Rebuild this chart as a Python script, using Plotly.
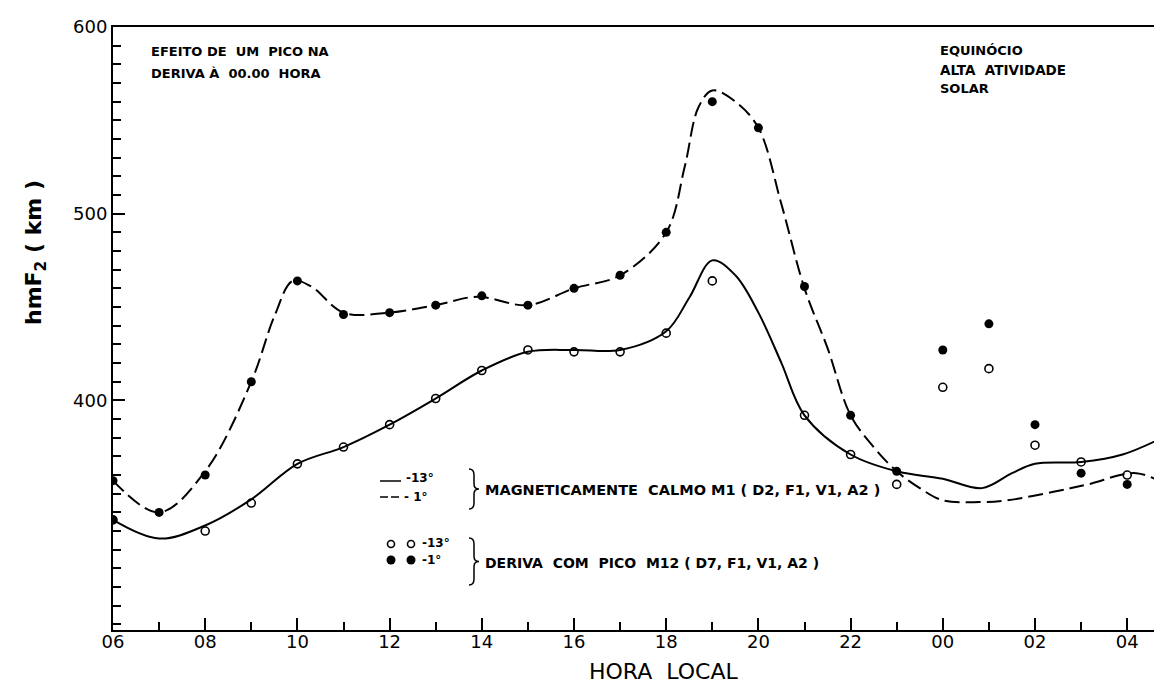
import plotly.graph_objects as go

# ---------------- data ----------------
# local hour (06 .. 28 = 04 next day)
hours = [6, 7, 8, 9, 10, 11, 12, 13, 14, 15, 16, 17, 18, 19, 20, 21, 22, 23, 24, 25, 26, 27, 28]

# points: drift with a peak, M12 (D7,F1,V1,A2)
filled_m12 = [357, 340, 360, 410, 464, 446, 447, 451, 456, 451, 460, 467, 490, 560, 546, 461, 392, 362, 427, 441, 387, 361, 355]   # -1 deg
open_m12 = [336, None, 330, 345, 366, 375, 387, 401, 416, 427, 426, 426, 436, 464, None, 392, 371, 355, 407, 417, 376, 367, 360]   # -13 deg

# curves: magnetically quiet, M1 (D2,F1,V1,A2)
curve_m1_13_x = [6, 7, 8, 9, 10, 11, 12, 13, 14, 15, 16, 17, 18, 18.5, 19, 19.5, 20, 20.5, 21, 22, 23, 24, 24.85, 25.5, 26, 27, 27.9, 28.93]
curve_m1_13_y = [336, 326, 333, 347, 366, 375, 387, 401, 416, 426, 427, 427, 437, 455, 475, 467, 447, 420, 392, 371, 362, 358, 353, 361, 366, 367, 371, 382]

curve_m1_1_x = [6, 7, 8, 9, 9.5, 9.9, 10.3, 11, 12, 13, 13.9, 15, 16, 17, 18, 18.4, 18.7, 19.0, 19.5, 20, 20.5, 21, 21.5, 22, 22.5, 23, 23.5, 24, 24.8, 25.4, 26.4, 27.15, 28.2, 28.93]
curve_m1_1_y = [357, 340, 362, 410, 445, 464, 461, 447, 447, 451, 455.5, 451, 460, 467, 490, 525, 557, 566, 560, 546, 505, 460, 428, 392, 375, 362, 353, 346.5, 345.5, 346.5, 351, 355, 361, 353.5]

x_tickvals = [6, 8, 10, 12, 14, 16, 18, 20, 22, 24, 26, 28]
x_ticktext = ["06", "08", "10", "12", "14", "16", "18", "20", "22", "00", "02", "04"]
y_tickvals = [400, 500, 600]

# ---------------- figure ----------------
W, H = 1162, 689
L, R, T, B = 105, 0, 19, 67
PW, PH = W - L - R, H - T - B
X_MIN, PX_PER_H = 6, 46.1
X_MAX = X_MIN + PW / PX_PER_H

def px(x):
    return (x - L) / PW

def py(y):
    return (H - B - y) / PH

FONT = "DejaVu Sans"
NB = "\u00a0"
fig = go.Figure()

open_symbols = ["circle"] + ["circle-open"] * (len(hours) - 1)

fig.add_trace(go.Scatter(x=curve_m1_13_x, y=curve_m1_13_y, mode="lines",
                         line=dict(color="black", width=2, shape="spline", smoothing=1.0),
                         showlegend=False, hoverinfo="skip"))
fig.add_trace(go.Scatter(x=curve_m1_1_x, y=curve_m1_1_y, mode="lines",
                         line=dict(color="black", width=2, shape="spline", smoothing=1.0, dash="15px,6px"),
                         showlegend=False, hoverinfo="skip"))
fig.add_trace(go.Scatter(x=hours, y=open_m12, mode="markers",
                         marker=dict(symbol=open_symbols, size=8, color="black", line=dict(width=1.6, color="black")),
                         showlegend=False))
fig.add_trace(go.Scatter(x=hours, y=filled_m12, mode="markers",
                         marker=dict(symbol="circle", size=9, color="black"),
                         showlegend=False))

shapes = []
annotations = []

def text(x, y, s, size=13, anchor="left", bold=True, angle=0):
    annotations.append(dict(x=px(x), y=py(y), xref="paper", yref="paper", text=s, showarrow=False,
                            xanchor=anchor, yanchor="middle", textangle=angle,
                            font=dict(family=FONT, size=size, color="black",
                                      weight="bold" if bold else "normal")))

# in-plot legend
shapes.append(dict(type="line", xref="paper", yref="paper", x0=px(372), x1=px(393), y0=py(473), y1=py(473),
                   line=dict(color="black", width=1.5)))
shapes.append(dict(type="line", xref="paper", yref="paper", x0=px(372), x1=px(393), y0=py(489), y1=py(489),
                   line=dict(color="black", width=1.5, dash="8px,3px")))
text(396, 470, "-13°", 12)
text(394, 489, "- 1°", 12)

def brace(x, y0, y1):
    ym = (y0 + y1) / 2
    d = (f"M {px(x)},{py(y0)} Q {px(x+5)},{py(y0)} {px(x+5)},{py(y0+6)} "
         f"L {px(x+5)},{py(ym-5)} Q {px(x+5)},{py(ym)} {px(x+10)},{py(ym)} "
         f"Q {px(x+5)},{py(ym)} {px(x+5)},{py(ym+5)} "
         f"L {px(x+5)},{py(y1-6)} Q {px(x+5)},{py(y1)} {px(x)},{py(y1)}")
    shapes.append(dict(type="path", xref="paper", yref="paper", path=d, line=dict(color="black", width=1.5)))

brace(461, 461, 501)
text(475, 482, f"MAGNETICAMENTE{NB}{NB}CALMO{NB}M1{NB}({NB}D2,{NB}F1,{NB}V1,{NB}A2{NB})", 14.5)

for cx in (383, 403):
    shapes.append(dict(type="circle", xref="paper", yref="paper", x0=px(cx - 3.5), x1=px(cx + 3.5),
                       y0=py(536 + 3.5), y1=py(536 - 3.5), line=dict(color="black", width=1.6)))
    shapes.append(dict(type="circle", xref="paper", yref="paper", x0=px(cx - 4.5), x1=px(cx + 4.5),
                       y0=py(552 + 4.5), y1=py(552 - 4.5), fillcolor="black", line=dict(color="black", width=0)))
text(412, 535, "-13°", 12)
text(412, 552, "-1°", 12)
brace(461, 530, 577)
text(475, 555, f"DERIVA{NB}{NB}COM{NB}{NB}PICO{NB}{NB}M12{NB}({NB}D7,{NB}F1,{NB}V1,{NB}A2{NB})", 14)

# corner notes
text(141, 43, f"EFEITO{NB}DE{NB}{NB}UM{NB}{NB}PICO{NB}NA", 13)
text(141, 66, f"DERIVA{NB}À{NB}{NB}00.00{NB}{NB}HORA", 13)
text(930, 42, "EQUINÓCIO", 13)
text(930, 62, f"ALTA{NB}{NB}ATIVIDADE", 13.5)
text(930, 81, "SOLAR", 13)

# axis titles
text(28, 245, "hmF<sub>2</sub> ( km )", 22, anchor="center", angle=-90)
text(655, 664, f"HORA{NB}{NB}LOCAL", 22, anchor="center", bold=False)

fig.update_layout(
    width=W, height=H,
    margin=dict(l=L, r=R, t=T, b=B, pad=0),
    paper_bgcolor="white", plot_bgcolor="white",
    shapes=shapes, annotations=annotations,
    showlegend=False,
    font=dict(family=FONT, color="black"),
    xaxis=dict(range=[X_MIN, X_MAX], tickmode="array", tickvals=x_tickvals, ticktext=x_ticktext,
               ticks="inside", ticklen=12, tickwidth=2, tickcolor="black",
               minor=dict(tickmode="linear", tick0=0, dtick=1, ticks="inside", ticklen=8, tickwidth=2, tickcolor="black"),
               showline=True, linecolor="black", linewidth=2, mirror=True,
               showgrid=False, zeroline=False, ticklabelstandoff=-6,
               tickfont=dict(family=FONT, size=18, color="black")),
    yaxis=dict(range=[277, 600], tickmode="array", tickvals=y_tickvals,
               ticks="inside", ticklen=12, tickwidth=2, tickcolor="black",
               minor=dict(tickmode="linear", tick0=0, dtick=10, ticks="inside", ticklen=8, tickwidth=2, tickcolor="black"),
               showline=True, linecolor="black", linewidth=2, mirror=False,
               showgrid=False, zeroline=False,
               tickfont=dict(family=FONT, size=18, color="black")),
)

fig.write_html("out.html")
